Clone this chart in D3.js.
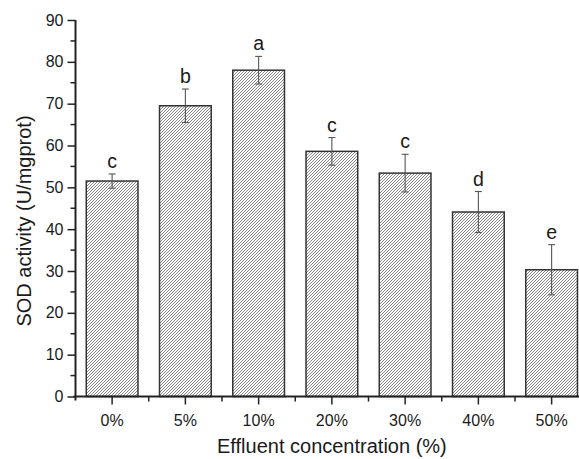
<!DOCTYPE html>
<html>
<head>
<meta charset="utf-8">
<script src="https://cdn.jsdelivr.net/npm/d3@7"></script>
<style>
  html, body { margin: 0; padding: 0; background: #fff; }
  svg { display: block; font-family: "Liberation Sans", Arial, sans-serif; }
</style>
</head>
<body>
<svg id="chart" width="579" height="459"></svg>
<script>
const categories = ["0%", "5%", "10%", "20%", "30%", "40%", "50%"];
const values = [51.5, 69.5, 78.0, 58.6, 53.4, 44.1, 30.3];
const errors = [1.7, 4.0, 3.3, 3.3, 4.5, 4.9, 6.0];
const letters = ["c", "b", "a", "c", "c", "d", "e"];
const yTicks = [0, 10, 20, 30, 40, 50, 60, 70, 80, 90];
const yMinorTicks = [5, 15, 25, 35, 45, 55, 65, 75, 85];
const xTitle = "Effluent concentration (%)";
const yTitle = "SOD activity (U/mgprot)";

const svg = d3.select("#chart");
const x0 = 75.5, step = 73.25;
const x = d3.scaleBand().domain(categories)
  .range([x0, x0 + step * categories.length])
  .paddingInner(0.294).paddingOuter(0.147);
const y = d3.scaleLinear().domain([0, 90]).range([396.5, 20]);

// hatch pattern
const defs = svg.append("defs");
const pat = defs.append("pattern").attr("id", "hatch")
  .attr("patternUnits", "userSpaceOnUse").attr("width", 3).attr("height", 3);
pat.append("rect").attr("width", 3).attr("height", 3).attr("fill", "#fff");
pat.append("path").attr("d", "M-1,1 L1,-1 M0,3 L3,0 M2,4 L4,2")
  .attr("stroke", "#5e5e5e").attr("stroke-width", 0.75);

// bars
svg.append("g").selectAll("rect").data(categories).join("rect")
  .attr("x", d => x(d))
  .attr("y", (d, i) => y(values[i]))
  .attr("width", x.bandwidth())
  .attr("height", (d, i) => y(0) - y(values[i]))
  .attr("fill", "url(#hatch)")
  .attr("stroke", "#333").attr("stroke-width", 1.5);

// error bars
const eg = svg.append("g").attr("stroke", "#555").attr("stroke-width", 1.1);
categories.forEach((c, i) => {
  const cx = x(c) + x.bandwidth() / 2;
  const top = y(values[i] + errors[i]), bot = y(values[i] - errors[i]);
  eg.append("line").attr("x1", cx).attr("x2", cx).attr("y1", top).attr("y2", bot);
  eg.append("line").attr("x1", cx - 3.5).attr("x2", cx + 3.5).attr("y1", top).attr("y2", top);
  eg.append("line").attr("x1", cx - 3.5).attr("x2", cx + 3.5).attr("y1", bot).attr("y2", bot);
});

// significance letters
svg.append("g").selectAll("text").data(categories).join("text")
  .attr("x", d => x(d) + x.bandwidth() / 2)
  .attr("y", (d, i) => y(values[i] + errors[i]) - 6)
  .attr("text-anchor", "middle")
  .attr("font-size", 19.5).attr("fill", "#1a1a1a")
  .text((d, i) => letters[i]);

// y axis
const yAxis = svg.append("g").attr("transform", `translate(${x0},0)`)
  .call(d3.axisLeft(y).tickValues(yTicks).tickSize(8).tickPadding(4).tickFormat(d3.format("d")));
yAxis.select(".domain").attr("d", `M0,${y(90)}V${y(0) + 4}`).attr("stroke", "#222").attr("stroke-width", 2);
yAxis.selectAll(".tick line").attr("stroke", "#222").attr("stroke-width", 1.5);
yAxis.selectAll(".tick text").attr("font-size", 16).attr("fill", "#1a1a1a")
  .attr("font-family", "'Liberation Sans', Arial, sans-serif");
yAxis.append("g").selectAll("line").data(yMinorTicks).join("line")
  .attr("x1", -5).attr("x2", 0).attr("y1", d => y(d)).attr("y2", d => y(d))
  .attr("stroke", "#222").attr("stroke-width", 1.5);

// x axis
const xAxis = svg.append("g").attr("transform", `translate(0,${y(0)})`)
  .call(d3.axisBottom(x).tickSize(8).tickPadding(10));
xAxis.select(".domain").attr("d", `M${x0 - 2},0H${x0 + step * categories.length}`)
  .attr("stroke", "#222").attr("stroke-width", 2);
xAxis.selectAll(".tick line").attr("stroke", "#222").attr("stroke-width", 1.5);
xAxis.selectAll(".tick text").attr("font-size", 16).attr("fill", "#1a1a1a")
  .attr("font-family", "'Liberation Sans', Arial, sans-serif");
const bounds = d3.range(1, categories.length).map(i => x(categories[i]) - x.step() * x.paddingInner() / 2);
xAxis.append("g").selectAll("line").data(bounds).join("line")
  .attr("x1", d => d).attr("x2", d => d).attr("y1", 0).attr("y2", 5)
  .attr("stroke", "#222").attr("stroke-width", 1.5);

// titles
svg.append("text").attr("x", x0 + step * categories.length / 2).attr("y", 453)
  .attr("text-anchor", "middle").attr("font-size", 20).attr("fill", "#1a1a1a")
  .text(xTitle);
svg.append("text").attr("transform", "translate(31,221) rotate(-90)")
  .attr("text-anchor", "middle").attr("font-size", 20).attr("fill", "#1a1a1a")
  .text(yTitle);
</script>
</body>
</html>
